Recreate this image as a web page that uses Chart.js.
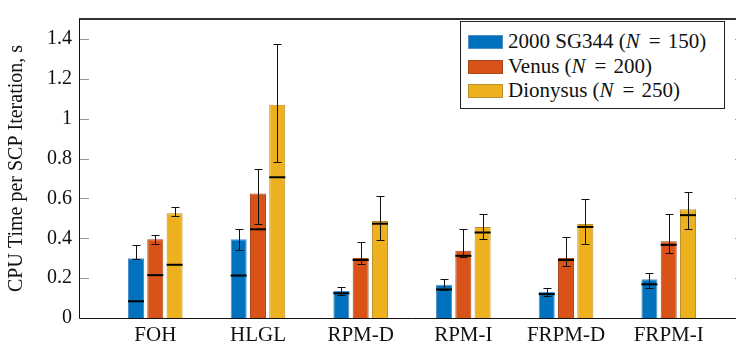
<!DOCTYPE html>
<html>
<head>
<meta charset="utf-8">
<script src="https://cdn.jsdelivr.net/npm/chart.js@4"></script>
<style>
  html, body { margin: 0; padding: 0; background: #fff; overflow: hidden; }
  #wrap { position: relative; width: 760px; height: 347px; }
  #legend {
    position: absolute; left: 460px; top: 21px; width: 263px; height: 86px;
    border: 1px solid #222; background: #fff;
    font-family: 'Liberation Serif', 'Times New Roman', serif; font-size: 21px; color: #111;
  }
  .row { position: absolute; left: 0; height: 24px; line-height: 24px; white-space: nowrap; }
  .sw { position: absolute; left: 7px; top: 6px; width: 33px; height: 12px; border: 1px solid; }
  .lbl { position: absolute; left: 47px; top: 0; }
  .eq { margin: 0 7px 0 9px; }
</style>
</head>
<body>
<div id="wrap">
  <canvas id="chart" width="760" height="347"></canvas>
  <div id="legend"></div>
</div>
<script>
// categories and series
var categories = ['FOH', 'HLGL', 'RPM-D', 'RPM-I', 'FRPM-D', 'FRPM-I'];
var seriesNames = ['2000 SG344', 'Venus', 'Dionysus'];
var seriesN = [150, 200, 250];

var sg344Mean = [0.30, 0.395, 0.135, 0.167, 0.132, 0.194];
var venusMean = [0.395, 0.624, 0.301, 0.337, 0.301, 0.385];
var dionysusMean = [0.525, 1.07, 0.486, 0.457, 0.472, 0.545];

var sg344Median = [0.084, 0.213, 0.124, 0.143, 0.120, 0.169];
var venusMedian = [0.215, 0.445, 0.291, 0.312, 0.291, 0.367];
var dionysusMedian = [0.267, 0.706, 0.473, 0.429, 0.457, 0.516];

var sg344Hi = [0.367, 0.447, 0.156, 0.194, 0.151, 0.226];
var sg344Lo = [0.294, 0.343, 0.114, 0.138, 0.111, 0.153];
var venusHi = [0.416, 0.745, 0.379, 0.447, 0.406, 0.520];
var venusLo = [0.372, 0.472, 0.272, 0.304, 0.259, 0.324];
var dionysusHi = [0.558, 1.377, 0.611, 0.522, 0.595, 0.634];
var dionysusLo = [0.511, 0.785, 0.390, 0.394, 0.371, 0.447];

var yTicks = [0, 0.2, 0.4, 0.6, 0.8, 1, 1.2, 1.4];

var fills = ['#0072BD', '#D95319', '#EDB120'];
var edges = ['#4f8fc4', '#a9461c', '#b8912c'];

var means = [sg344Mean, venusMean, dionysusMean];
var medians = [sg344Median, venusMedian, dionysusMedian];
var his = [sg344Hi, venusHi, dionysusHi];
var los = [sg344Lo, venusLo, dionysusLo];

var serif = "'Liberation Serif', 'Times New Roman', serif";

function toPoints(arr) {
    return arr.map(function (v, i) { return { x: i, y: v }; });
}

var datasets = seriesNames.map(function (name, k) {
    return {
        label: name,
        data: toPoints(means[k]),
        backgroundColor: fills[k],
        borderColor: edges[k],
        borderWidth: 1,
        categoryPercentage: 0.564,
        barPercentage: 0.83,
        medians: medians[k],
        hi: his[k],
        lo: los[k]
    };
});

// medians and error bars on top of the bars
var errorPlugin = {
    id: 'errorBars',
    afterDatasetsDraw: function (chart) {
        var ctx = chart.ctx;
        var y = chart.scales.y;
        ctx.save();
        chart.data.datasets.forEach(function (ds, k) {
            var meta = chart.getDatasetMeta(k);
            meta.data.forEach(function (bar, i) {
                var half = bar.width / 2;
                var ym = y.getPixelForValue(ds.medians[i]);
                ctx.strokeStyle = '#000';
                ctx.lineWidth = 2;
                ctx.beginPath();
                ctx.moveTo(bar.x - half, ym);
                ctx.lineTo(bar.x + half, ym);
                ctx.stroke();

                var yh = Math.round(y.getPixelForValue(ds.hi[i])) + 0.5;
                var yl = Math.round(y.getPixelForValue(ds.lo[i])) + 0.5;
                var cx = Math.round(bar.x) + 0.5;
                ctx.strokeStyle = '#111';
                ctx.lineWidth = 1;
                ctx.beginPath();
                ctx.moveTo(cx, yh); ctx.lineTo(cx, yl);
                ctx.moveTo(cx - 4, yh); ctx.lineTo(cx + 4, yh);
                ctx.moveTo(cx - 4, yl); ctx.lineTo(cx + 4, yl);
                ctx.stroke();
            });
        });
        ctx.restore();
    }
};

// axis box with inward ticks
var framePlugin = {
    id: 'frame',
    afterDraw: function (chart) {
        var a = chart.chartArea;
        var ctx = chart.ctx;
        var y = chart.scales.y;
        ctx.save();
        ctx.strokeStyle = '#999';
        ctx.lineWidth = 1;
        ctx.beginPath();
        yTicks.forEach(function (t) {
            if (t === 0) return;
            var py = Math.round(y.getPixelForValue(t)) + 0.5;
            ctx.moveTo(a.left, py); ctx.lineTo(a.left + 10, py);
            ctx.moveTo(a.right, py); ctx.lineTo(a.right - 10, py);
        });
        ctx.stroke();
        ctx.strokeStyle = '#333';
        ctx.lineWidth = 2;
        ctx.beginPath();
        ctx.moveTo(a.left, a.top); ctx.lineTo(a.right, a.top);
        ctx.stroke();
        ctx.strokeStyle = '#111';
        ctx.lineWidth = 1;
        ctx.beginPath();
        ctx.moveTo(a.left + 0.5, a.top); ctx.lineTo(a.left + 0.5, a.bottom + 0.5);
        ctx.lineTo(a.right + 0.5, a.bottom + 0.5); ctx.lineTo(a.right + 0.5, a.top);
        ctx.stroke();
        ctx.restore();
    }
};

var ctx = document.getElementById('chart').getContext('2d');
var chart = new Chart(ctx, {
    type: 'bar',
    data: { datasets: datasets },
    options: {
        responsive: false,
        animation: false,
        layout: { padding: { top: 11, right: 15, left: 0, bottom: 0 } },
        plugins: {
            legend: { display: false },
            tooltip: { enabled: false }
        },
        scales: {
            x: {
                type: 'linear',
                offset: false,
                min: -0.743,
                max: 5.743,
                afterBuildTicks: function (scale) {
                    scale.ticks = categories.map(function (c, i) { return { value: i }; });
                },
                afterFit: function (scale) { scale.height = 29; },
                grid: { display: false, drawTicks: false },
                border: { display: false },
                ticks: {
                    autoSkip: false,
                    maxRotation: 0,
                    padding: 5,
                    color: '#111',
                    font: { family: serif, size: 21 },
                    callback: function (v) { return categories[v]; }
                }
            },
            y: {
                min: 0,
                max: 1.5,
                afterBuildTicks: function (scale) {
                    scale.ticks = yTicks.map(function (v) { return { value: v }; });
                },
                afterFit: function (scale) { scale.width = 79; },
                grid: { display: false, drawTicks: false },
                border: { display: false },
                ticks: {
                    padding: 7,
                    color: '#111',
                    font: { family: serif, size: 20 },
                    callback: function (v) { return String(Math.round(v * 10) / 10); }
                },
                title: {
                    display: true,
                    text: 'CPU Time per SCP Iteration, s',
                    color: '#111',
                    padding: { top: 5, bottom: 0 },
                    font: { family: serif, size: 20 }
                }
            }
        }
    },
    plugins: [errorPlugin, framePlugin]
});

// legend with italic N
var legend = document.getElementById('legend');
seriesNames.forEach(function (name, k) {
    var row = document.createElement('div');
    row.className = 'row';
    row.style.top = (7 + k * 24.5) + 'px';
    row.style.width = '100%';
    var sw = document.createElement('div');
    sw.className = 'sw';
    sw.style.background = fills[k];
    sw.style.borderColor = edges[k];
    var lbl = document.createElement('span');
    lbl.className = 'lbl';
    lbl.innerHTML = name + ' (<i>N</i><span class="eq">=</span>' + seriesN[k] + ')';
    row.appendChild(sw);
    row.appendChild(lbl);
    legend.appendChild(row);
});
</script>
</body>
</html>
